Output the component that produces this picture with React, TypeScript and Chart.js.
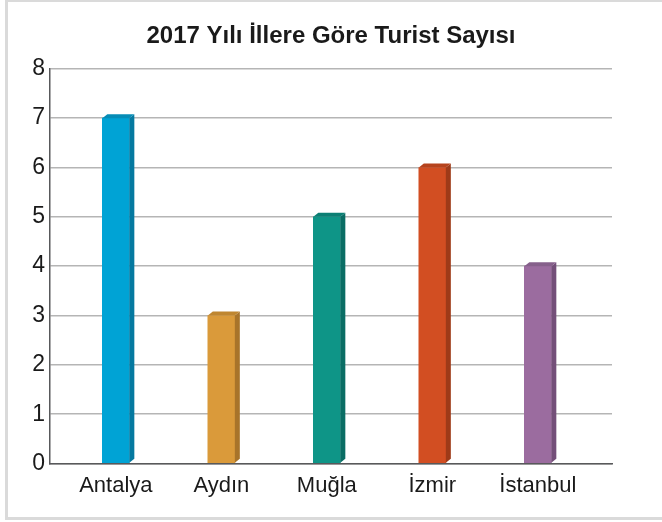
import React, { useEffect, useRef } from "react";
import { Chart, registerables } from "chart.js";

Chart.register(...registerables);

const titleText = "2017 Yılı İllere Göre Turist Sayısı";
const categories = ["Antalya", "Aydın", "Muğla", "İzmir", "İstanbul"];
const touristValues = [7, 3, 5, 6, 4];
const yTickValues = [0, 1, 2, 3, 4, 5, 6, 7, 8];
const frontColors = ["#00a3d5", "#da9a3a", "#0e9587", "#d24e22", "#9b6c9f"];
const sideColors = ["#0579a0", "#a8742a", "#0a6d64", "#9e3a18", "#744f79"];
const topColors = ["#068cb6", "#bf8630", "#0b7f74", "#b6431d", "#86608b"];

const DX = 5;
const DY = 4;

const threeDPlugin = {
  id: "threeD",
  afterDatasetsDraw(chart: any) {
    const ctx = chart.ctx;
    const meta = chart.getDatasetMeta(0);
    meta.data.forEach((bar: any, i: number) => {
      const { x, y, base, width } = bar.getProps(["x", "y", "base", "width"], true);
      const left = x - width / 2;
      const right = x + width / 2;
      ctx.save();
      ctx.fillStyle = sideColors[i];
      ctx.beginPath();
      ctx.moveTo(right, y);
      ctx.lineTo(right + DX, y - DY);
      ctx.lineTo(right + DX, base - DY);
      ctx.lineTo(right, base);
      ctx.closePath();
      ctx.fill();
      ctx.fillStyle = topColors[i];
      ctx.beginPath();
      ctx.moveTo(left, y);
      ctx.lineTo(left + DX, y - DY);
      ctx.lineTo(right + DX, y - DY);
      ctx.lineTo(right, y);
      ctx.closePath();
      ctx.fill();
      ctx.restore();
    });
  },
};

export default function App() {
  const canvasRef = useRef<HTMLCanvasElement | null>(null);

  useEffect(() => {
    if (!canvasRef.current) return;
    const chart = new Chart(canvasRef.current, {
      type: "bar",
      data: {
        datasets: [
          {
            data: touristValues.map((v, i) => ({ x: i, y: v })),
            backgroundColor: frontColors,
            borderWidth: 0,
            barThickness: 27,
          } as any,
        ],
      },
      options: {
        responsive: false,
        animation: false,
        devicePixelRatio: 1,
        layout: { padding: 0 },
        plugins: {
          legend: { display: false },
          tooltip: { enabled: false },
          title: {
            display: true,
            text: titleText,
            color: "#1a1a1a",
            font: { family: "'Liberation Sans', Arial, sans-serif", size: 24, weight: "bold" },
            padding: { top: 22, bottom: 18 },
          },
        },
        scales: {
          x: {
            type: "linear",
            min: -0.624,
            max: 4.703,
            offset: false,
            grid: { display: false, drawTicks: false },
            border: { display: true, color: "#58595b", width: 1.5 },
            afterBuildTicks: (scale: any) => {
              scale.ticks = categories.map((_, i) => ({ value: i }));
            },
            afterFit: (scale: any) => {
              scale.height = 58.5;
            },
            ticks: {
              padding: 9,
              color: "#1a1a1a",
              font: { family: "'Liberation Sans', Arial, sans-serif", size: 22 },
              maxRotation: 0,
              autoSkip: false,
              callback: (value: any) => categories[Math.round(Number(value))] ?? "",
            },
          },
          y: {
            min: 0,
            max: 8,
            afterBuildTicks: (scale: any) => {
              scale.ticks = yTickValues.map((v) => ({ value: v }));
            },
            afterFit: (scale: any) => {
              scale.width = 50;
            },
            grid: { color: "#b5b5b5", lineWidth: 1.5, drawTicks: false },
            border: { display: true, color: "#58595b", width: 1.5 },
            ticks: {
              padding: 5,
              color: "#1a1a1a",
              font: { family: "'Liberation Sans', Arial, sans-serif", size: 23 },
            },
          },
          yRight: {
            type: "linear",
            position: "right",
            display: true,
            min: 0,
            max: 8,
            grid: { display: false, drawTicks: false },
            border: { display: false },
            ticks: { display: false },
            afterFit: (scale: any) => {
              scale.width = 50;
            },
          },
        },
      } as any,
      plugins: [threeDPlugin],
    });
    return () => chart.destroy();
  }, []);

  return (
    <div style={{ position: "fixed", left: 0, top: 0, width: 662, height: 522, overflow: "hidden", background: "#fff" }}>
      <div
        style={{
          position: "absolute",
          left: 5,
          top: -1,
          width: 700,
          height: 521,
          boxSizing: "border-box",
          border: "3px solid #dadada",
        }}
      />
      <canvas
        ref={canvasRef}
        width={662}
        height={522}
        style={{ position: "absolute", left: 0, top: 0, width: 662, height: 522 }}
      />
    </div>
  );
}
